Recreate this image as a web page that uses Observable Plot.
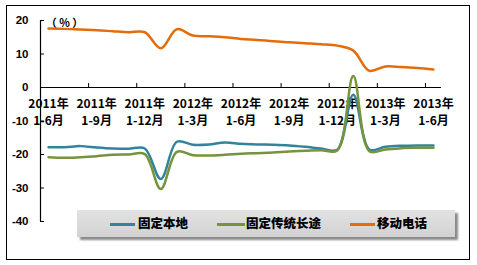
<!DOCTYPE html>
<html><head><meta charset="utf-8">
<script src="https://cdn.jsdelivr.net/npm/d3@7"></script>
<script src="https://cdn.jsdelivr.net/npm/@observablehq/plot@0.6"></script>
<style>
body{margin:0;background:#fff;}
#wrap{position:relative;width:477px;height:265px;}
#border{position:absolute;left:6px;top:5px;width:464px;height:255px;border:1px solid #000;box-sizing:border-box;pointer-events:none;}
#chart{position:absolute;left:0;top:0;}
#legend{position:absolute;left:77px;top:210px;width:378px;height:27px;background:linear-gradient(#e2e2e2,#d2d2d2);box-shadow:3px 3px 2px #8a8a8a;font-family:"Noto Sans CJK SC",sans-serif;font-weight:900;font-size:12.5px;color:#000;}
.sw{position:absolute;top:13px;height:2.5px;}
.lt{position:absolute;top:5px;line-height:16px;white-space:nowrap;}
</style></head>
<body>
<div id="wrap">
  <div id="chart"></div>
  <div id="legend"></div>
  <div id="border"></div>
</div>
<script>
// Monthly categories (cumulative, year-to-date)
const categories = ["2011-06","2011-07","2011-08","2011-09","2011-10","2011-11","2011-12",
  "2012-01","2012-02","2012-03","2012-04","2012-05","2012-06","2012-07","2012-08","2012-09",
  "2012-10","2012-11","2012-12","2013-01","2013-02","2013-03","2013-04","2013-05","2013-06"];
const tickIndex = [0,3,6,9,12,15,18,21,24];
const tickLabels = ["2011年\n1-6月","2011年\n1-9月","2011年\n1-12月","2012年\n1-3月","2012年\n1-6月",
  "2012年\n1-9月","2012年\n1-12月","2013年\n1-3月","2013年\n1-6月"];
const seriesNames = ["固定本地","固定传统长途","移动电话"];
const seriesColors = ["#31849B","#77933C","#E46C0A"];
const local = [-17.8,-17.8,-17.5,-17.9,-18.2,-18.3,-18.2,-27.3,-16.2,-17.1,-17.0,-16.4,-16.8,
  -17.0,-17.1,-17.3,-17.7,-18.2,-18.6,-2.2,-18.5,-17.7,-17.4,-17.3,-17.3];
const longDistance = [-20.8,-21.0,-20.8,-20.5,-20.1,-20.0,-19.9,-30.3,-19.2,-20.2,-20.3,-20.1,-19.8,
  -19.6,-19.4,-19.1,-18.9,-18.7,-18.8,3.4,-19.0,-18.5,-18.1,-18.0,-18.0];
const mobile = [17.6,17.5,17.3,17.1,16.8,16.5,16.5,11.7,17.4,15.5,15.3,15.0,14.5,
  14.2,13.8,13.5,13.2,12.9,12.5,11.0,5.0,6.3,6.1,5.8,5.4];
const yTicks = [-40,-30,-20,-10,0,10,20];
const unitLabel = "（ % ）";

const seriesValues = [local, longDistance, mobile];
const rows = [];
seriesValues.forEach((vals, s) => vals.forEach((v, i) => rows.push({i, v, s: seriesNames[s]})));
const boundaries = d3.range(-0.5, 24.5, 3);
const labelFont = '"Noto Sans CJK SC", sans-serif';

const chart = Plot.plot({
  width: 477, height: 265,
  marginLeft: 40, marginRight: 36, marginTop: 20, marginBottom: 44,
  x: {domain: [-0.5, 24.5], axis: null},
  y: {domain: [-40, 20], axis: null},
  color: {domain: seriesNames, range: seriesColors},
  style: {background: "transparent"},
  marks: [
    Plot.ruleX([-0.5], {y1: -40, y2: 20, stroke: "#000", strokeWidth: 1.2}),
    Plot.ruleY(yTicks, {x1: -0.5, x2: -0.25, stroke: "#000"}),
    Plot.ruleY([0], {x1: -0.5, x2: 24.5, stroke: "#000", strokeWidth: 1.2}),
    Plot.ruleX(boundaries, {y1: 0, y2: 1.2, stroke: "#000"}),
    Plot.text(yTicks, {x: -0.5, y: d => d, text: d => String(d), textAnchor: "end", dx: -12,
      fontFamily: '"Liberation Sans", Arial, sans-serif', fontWeight: "bold", fontSize: 11.5, fill: "#000"}),
    Plot.text(tickIndex, {x: d => d, y: 0, text: (d, k) => tickLabels[k], dy: 23.5, lineHeight: 1.4,
      fontFamily: labelFont, fontWeight: "bold", fontSize: 12, fill: "#000"}),
    Plot.text([unitLabel], {x: -0.5, y: 20, text: d => d, dx: 24, dy: 3,
      fontFamily: labelFont, fontWeight: "bold", fontSize: 11, fill: "#000"}),
    Plot.line(rows, {x: "i", y: "v", z: "s", stroke: "s", strokeWidth: 2.5, curve: "catmull-rom"})
  ]
});
document.getElementById("chart").appendChild(chart);

const legend = document.getElementById("legend");
const pos = [[33, 25, 61], [140, 28, 169], [273, 25, 300]];
seriesNames.forEach((n, k) => {
  const sw = document.createElement("div");
  sw.className = "sw"; sw.style.left = pos[k][0] + "px"; sw.style.width = pos[k][1] + "px";
  sw.style.background = seriesColors[k];
  const t = document.createElement("div");
  t.className = "lt"; t.style.left = pos[k][2] + "px"; t.textContent = n;
  legend.appendChild(sw); legend.appendChild(t);
});
</script>
</body></html>
